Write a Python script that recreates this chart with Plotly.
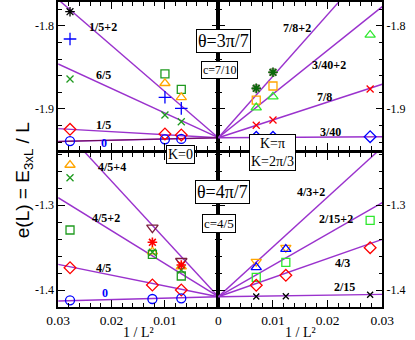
import plotly.graph_objects as go

# ---------------- data ----------------
# x = 1/L^2 positions
X_TOP_LEFT = [0.02778, 0.01, 0.00694]      # L = 6, 10, 12
X_TOP_RIGHT = [0.00694, 0.01, 0.02778]     # L = 12, 10, 6
X_BOT_LEFT = [0.02778, 0.01235, 0.00694]   # L = 6, 9, 12
X_BOT_RIGHT = [0.00694, 0.01235, 0.02778]  # L = 12, 9, 6

# top-left (theta=3pi/7, K=0)
TL_ast_black = [-1.7828, None, None]
TL_plus_blue = [-1.8157, -1.8859, -1.8992]
TL_x_green = [-1.8639, -1.9072, -1.9153]
TL_square_green = [None, -1.8578, -1.8763]
TL_tri_orange = [None, -1.8690, -1.8859]
TL_diamond_red = [-1.9245, -1.9301, -1.9313]
TL_circle_blue = [-1.9386, -1.9365, -1.9361]

# top-right (theta=3pi/7, K=pi)
TR_ast_green = [-1.8751, -1.8558, None]
TR_square_orange = [-1.8892, -1.8723, None]
TR_tri_green = [-1.8984, -1.8852, -1.8108]
TR_x_red = [-1.9196, -1.9133, -1.8759]
TR_diamond_blue = [-1.9341, -1.9341, -1.9334]

# bottom-left (theta=4pi/7, K=0)
BL_tri_orange = [-1.2529, -1.3549, -1.3726]
BL_x_green = [-1.2679, -1.3556, -1.3765]
BL_square_green = [-1.3294, -1.3580, -1.3835]
BL_tridown_maroon = [None, -1.3267, -1.3659]
BL_ast_red = [None, -1.3439, -1.3706]
BL_diamond_red = [-1.3738, -1.3941, -1.4000]
BL_circle_blue = [-1.4121, -1.4106, -1.4098]

# bottom-right (theta=4pi/7, K=2pi/3)
BR_tridown_orange = [-1.3667, -1.3502, None]
BR_tri_blue = [-1.3733, -1.3518, None]
BR_square_green = [-1.3851, -1.3674, -1.3180]
BR_diamond_red = [-1.3945, -1.3827, -1.3502]
BR_x_black = [-1.4077, -1.4074, -1.4056]

# CFT lines: value at 1/L^2 = 0 and at 1/L^2 = 0.03
LINE_X = [0.0, 0.03]
E0_TOP = -1.9346
E0_BOT = -1.4079
TL_LINE_NAMES = ["0", "1/5", "6/5", "1/5+2"]
TL_LINE_END = [-1.9391, -1.9236, -1.8458, -1.7681]
TR_LINE_NAMES = ["3/40", "7/8", "3/40+2", "7/8+2"]
TR_LINE_END = [-1.9334, -1.8702, -1.7767, -1.7120]
BL_LINE_NAMES = ["0", "4/5", "4/5+2", "4/5+4"]
BL_LINE_END = [-1.4129, -1.3698, -1.2914, -1.2039]
BR_LINE_NAMES = ["2/15", "4/3", "2/15+2", "4/3+2"]
BR_LINE_END = [-1.4051, -1.3404, -1.2973, -1.2320]

# label positions (data coords)
TL_LABEL_X = [0.02135, 0.02153, 0.02153, 0.02153]
TL_LABEL_Y = [-1.9410, -1.9193, -1.8590, -1.8012]
TR_LABEL_X = [0.02052, 0.01948, 0.02017, 0.01448]
TR_LABEL_Y = [-1.9277, -1.8855, -1.8470, -1.8024]
BL_LABEL_X = [0.02118, 0.02153, 0.02100, 0.01994]
BL_LABEL_Y = [-1.4035, -1.3741, -1.3153, -1.2553]
BR_LABEL_X = [0.02310, 0.02276, 0.02155, 0.01690]
BR_LABEL_Y = [-1.3965, -1.3682, -1.3165, -1.2847]

X_TICKS = [0.0, 0.01, 0.02, 0.03]
X_TICK_TEXT = ["0", "0.01", "0.02", "0.03"]
Y_TICKS_TOP = [-1.8, -1.9]
Y_TICKS_BOT = [-1.3, -1.4]

# ---------------- colours ----------------
VIOLET = "#9a32cd"
BLUE = "#0000ff"
RED = "#ff0000"
DGREEN = "#1f9a1f"
LGREEN = "#2ee82e"
ORANGE = "#ffa500"
MAROON = "#7a1f3d"

fig = go.Figure()

def add_lines(e0, ends, xa, ya):
    for end in ends:
        fig.add_trace(go.Scatter(x=LINE_X, y=[e0, end], mode="lines",
                                 line=dict(color=VIOLET, width=1.4),
                                 xaxis=xa, yaxis=ya, hoverinfo="skip"))

def add_pts(x, y, symbol, color, size, xa, ya, lw=1.3):
    fig.add_trace(go.Scatter(x=x, y=y, mode="markers",
                             marker=dict(symbol=symbol, size=size, color=color,
                                         line=dict(color=color, width=lw)),
                             xaxis=xa, yaxis=ya))

# top-left
add_lines(E0_TOP, TL_LINE_END, "x", "y")
fig.add_trace(go.Scatter(x=LINE_X, y=[E0_TOP, TL_LINE_END[0]], mode="lines",
                         line=dict(color="#6a0a50", width=1.0), xaxis="x", yaxis="y"))
add_pts(X_TOP_LEFT, TL_ast_black, "asterisk-open", "black", 8, "x", "y")
add_pts(X_TOP_LEFT, TL_plus_blue, "cross-thin-open", BLUE, 9, "x", "y")
add_pts(X_TOP_LEFT, TL_x_green, "x-thin-open", DGREEN, 7, "x", "y")
add_pts(X_TOP_LEFT, TL_square_green, "square-open", DGREEN, 8, "x", "y")
add_pts(X_TOP_LEFT, TL_tri_orange, "triangle-up-open", ORANGE, 9, "x", "y")
add_pts(X_TOP_LEFT, TL_diamond_red, "diamond-open", RED, 9, "x", "y")
add_pts(X_TOP_LEFT, TL_circle_blue, "circle-open", BLUE, 9, "x", "y")

# top-right
add_lines(E0_TOP, TR_LINE_END, "x2", "y2")
add_pts(X_TOP_RIGHT, TR_ast_green, "circle", "#b09a9a", 9, "x2", "y2", lw=0)
add_pts(X_TOP_RIGHT, TR_ast_green, "asterisk-open", "#0a6a0a", 8, "x2", "y2", lw=1.6)
add_pts(X_TOP_RIGHT, TR_square_orange, "square-open", ORANGE, 8, "x2", "y2")
add_pts(X_TOP_RIGHT, TR_tri_green, "triangle-up-open", LGREEN, 9, "x2", "y2")
add_pts(X_TOP_RIGHT, TR_x_red, "x-thin-open", RED, 7, "x2", "y2")
add_pts(X_TOP_RIGHT, TR_diamond_blue, "diamond-open", BLUE, 9, "x2", "y2")

# bottom-left
add_lines(E0_BOT, BL_LINE_END, "x3", "y3")
add_pts(X_BOT_LEFT, BL_tri_orange, "triangle-up-open", ORANGE, 9, "x3", "y3")
add_pts(X_BOT_LEFT, BL_x_green, "x-thin-open", DGREEN, 7, "x3", "y3")
add_pts(X_BOT_LEFT, BL_square_green, "square-open", DGREEN, 8, "x3", "y3")
add_pts(X_BOT_LEFT, BL_tridown_maroon, "triangle-down-open", MAROON, 10, "x3", "y3")
add_pts(X_BOT_LEFT, BL_ast_red, "asterisk-open", RED, 8, "x3", "y3", lw=1.6)
add_pts(X_BOT_LEFT, BL_diamond_red, "diamond-open", RED, 9, "x3", "y3")
add_pts(X_BOT_LEFT, BL_circle_blue, "circle-open", BLUE, 9, "x3", "y3")

# bottom-right
add_lines(E0_BOT, BR_LINE_END, "x4", "y4")
add_pts(X_BOT_RIGHT, BR_tridown_orange, "triangle-down-open", ORANGE, 9, "x4", "y4")
add_pts(X_BOT_RIGHT, BR_tri_blue, "triangle-up-open", BLUE, 9, "x4", "y4")
add_pts(X_BOT_RIGHT, BR_square_green, "square-open", LGREEN, 8, "x4", "y4")
add_pts(X_BOT_RIGHT, BR_diamond_red, "diamond-open", RED, 9, "x4", "y4")
add_pts(X_BOT_RIGHT, BR_x_black, "x-thin-open", "black", 6, "x4", "y4")

# ---------------- axes ----------------
W, H = 415, 340
XL = [49 / W, 219 / W]
XR = [219 / W, 393 / W]
YT = [1 - 150 / H, 1 - 2 / H]
YB = [1 - 307 / H, 1 - 153 / H]

SERIF = "Liberation Serif"

def xax(domain, rng, anchor, labels):
    return dict(domain=domain, range=rng, anchor=anchor, showline=True,
                linecolor="black", linewidth=1.5, mirror="ticks",
                ticks="inside", ticklen=7, tickwidth=1, tickcolor="black",
                tickvals=X_TICKS, ticktext=X_TICK_TEXT, showticklabels=labels,
                tickfont=dict(family=SERIF, size=13.5, color="black"),
                minor=dict(ticks="inside", ticklen=4, tickcolor="black",
                           tickmode="linear", tick0=0, dtick=0.002, showgrid=False),
                showgrid=False, zeroline=False, fixedrange=True)

def yax(domain, rng, anchor, side, vals, tick0):
    return dict(domain=domain, range=rng, anchor=anchor, side=side,
                showline=True, linecolor="black", linewidth=1.5, mirror="ticks",
                ticks="inside", ticklen=7, tickwidth=1, tickcolor="black",
                tickvals=vals, ticktext=[("%.1f" % v) for v in vals],
                tickfont=dict(family=SERIF, size=12, color="black"),
                minor=dict(ticks="inside", ticklen=4, tickcolor="black",
                           tickmode="linear", tick0=tick0, dtick=0.02, showgrid=False),
                showgrid=False, zeroline=False, fixedrange=True)

TOP_RANGE = [-1.9494, -1.7711]
BOT_RANGE = [-1.4200, -1.2388]

fig.update_layout(
    width=W, height=H, margin=dict(l=0, r=0, t=0, b=0),
    paper_bgcolor="white", plot_bgcolor="white", showlegend=False,
    xaxis=xax(XL, [0.03, 0], "y", False),
    xaxis2=xax(XR, [0, 0.03], "y2", False),
    xaxis3=xax(XL, [0.03, 0], "y3", True),
    xaxis4=dict(xax(XR, [0, 0.03], "y4", True), tickvals=X_TICKS[1:], ticktext=X_TICK_TEXT[1:]),
    yaxis=yax(YT, TOP_RANGE, "x", "left", Y_TICKS_TOP, -1.8),
    yaxis2=yax(YT, TOP_RANGE, "x2", "right", Y_TICKS_TOP, -1.8),
    yaxis3=yax(YB, BOT_RANGE, "x3", "left", Y_TICKS_BOT, -1.3),
    yaxis4=yax(YB, BOT_RANGE, "x4", "right", Y_TICKS_BOT, -1.3),
)

ann = []

def labels(names, xs, ys, xref, yref, zero_blue):
    for n, x, y in zip(names, xs, ys):
        col = BLUE if (zero_blue and n == "0") else "black"
        ann.append(dict(text="<b>%s</b>" % n, x=x, y=y, xref=xref, yref=yref,
                        xanchor="center", yanchor="middle",
                        showarrow=False, font=dict(family=SERIF, size=12, color=col)))

labels(TL_LINE_NAMES, TL_LABEL_X, TL_LABEL_Y, "x", "y", True)
labels(TR_LINE_NAMES, TR_LABEL_X, TR_LABEL_Y, "x2", "y2", False)
labels(BL_LINE_NAMES, BL_LABEL_X, BL_LABEL_Y, "x3", "y3", True)
labels(BR_LINE_NAMES, BR_LABEL_X, BR_LABEL_Y, "x4", "y4", False)

def box(text, px, py, size):
    ann.append(dict(text=text, x=px / W, y=1 - py / H, xref="paper", yref="paper",
                    xanchor="center", yanchor="middle",
                    showarrow=False, bgcolor="white", bordercolor="black",
                    borderwidth=1, borderpad=1,
                    font=dict(family=SERIF, size=size, color="black")))

box("θ=3π/7", 224, 41, 18)
box("c=7/10", 220, 70, 12)
box("K=0", 179, 155, 14)
box("K=π<br>K=2π/3", 276, 153, 14)
box("θ=4π/7", 223, 192, 18)
box("c=4/5", 220, 223, 13)

for cx in (134, 306):
    ann.append(dict(text="1 / L²", x=cx / W, y=1 - 332 / H, xref="paper",
                    yref="paper", showarrow=False, xanchor="center", yanchor="middle",
                    font=dict(family=SERIF, size=14, color="black")))

ann.append(dict(text="e(L) = E<sub>3xL</sub> / L", x=13 / W, y=1 - 180 / H,
                xref="paper", yref="paper", showarrow=False, textangle=-90,
                xanchor="center", yanchor="middle",
                font=dict(family="Liberation Sans", size=19, color="black")))

fig.update_layout(annotations=ann)
fig.write_html("out.html", config={"displayModeBar": False},
               post_script="document.body.style.margin='0';document.body.style.overflow='hidden';")
